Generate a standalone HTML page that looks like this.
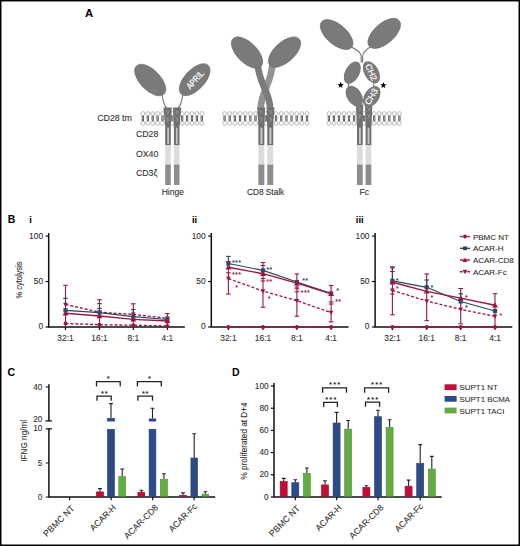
<!DOCTYPE html>
<html><head><meta charset="utf-8"><style>
html,body{margin:0;padding:0;background:#fff;width:520px;height:546px;overflow:hidden}
body{position:relative}
text.t{stroke:#303030;stroke-width:0.1px}
</style></head><body>
<svg width="520" height="546" viewBox="0 0 520 546" style="position:absolute;left:0;top:0">
<rect width="520" height="546" fill="#000"/><rect x="1.5" y="1.45" width="517.0" height="543.05" fill="#fff"/>
<text x="85" y="17.2" font-family='"Liberation Sans", sans-serif' font-weight="bold" font-size="11.2" fill="#000">A</text>
<text x="7.8" y="222.6" font-family='"Liberation Sans", sans-serif' font-weight="bold" font-size="10.5" fill="#000">B</text>
<text x="7.6" y="376" font-family='"Liberation Sans", sans-serif' font-weight="bold" font-size="10.5" fill="#000">C</text>
<text x="232" y="376" font-family='"Liberation Sans", sans-serif' font-weight="bold" font-size="10.5" fill="#000">D</text>
<path d="M142.40 115.50 q-0.6 2.9 0.2 5.8 M143.40 115.50 q0.5 2.9 -0.1 5.8" stroke="#4a4a4a" stroke-width="0.95" fill="none"/>
<circle cx="142.90" cy="113.60" r="2.0" fill="#fff" stroke="#959595" stroke-width="0.65"/>
<circle cx="142.90" cy="123.20" r="2.0" fill="#fff" stroke="#959595" stroke-width="0.65"/>
<path d="M147.31 115.50 q-0.6 2.9 0.2 5.8 M148.31 115.50 q0.5 2.9 -0.1 5.8" stroke="#4a4a4a" stroke-width="0.95" fill="none"/>
<circle cx="147.81" cy="113.60" r="2.0" fill="#fff" stroke="#959595" stroke-width="0.65"/>
<circle cx="147.81" cy="123.20" r="2.0" fill="#fff" stroke="#959595" stroke-width="0.65"/>
<path d="M152.22 115.50 q-0.6 2.9 0.2 5.8 M153.22 115.50 q0.5 2.9 -0.1 5.8" stroke="#4a4a4a" stroke-width="0.95" fill="none"/>
<circle cx="152.72" cy="113.60" r="2.0" fill="#fff" stroke="#959595" stroke-width="0.65"/>
<circle cx="152.72" cy="123.20" r="2.0" fill="#fff" stroke="#959595" stroke-width="0.65"/>
<path d="M157.12 115.50 q-0.6 2.9 0.2 5.8 M158.12 115.50 q0.5 2.9 -0.1 5.8" stroke="#4a4a4a" stroke-width="0.95" fill="none"/>
<circle cx="157.62" cy="113.60" r="2.0" fill="#fff" stroke="#959595" stroke-width="0.65"/>
<circle cx="157.62" cy="123.20" r="2.0" fill="#fff" stroke="#959595" stroke-width="0.65"/>
<path d="M162.03 115.50 q-0.6 2.9 0.2 5.8 M163.03 115.50 q0.5 2.9 -0.1 5.8" stroke="#4a4a4a" stroke-width="0.95" fill="none"/>
<circle cx="162.53" cy="113.60" r="2.0" fill="#fff" stroke="#959595" stroke-width="0.65"/>
<circle cx="162.53" cy="123.20" r="2.0" fill="#fff" stroke="#959595" stroke-width="0.65"/>
<path d="M166.94 115.50 q-0.6 2.9 0.2 5.8 M167.94 115.50 q0.5 2.9 -0.1 5.8" stroke="#4a4a4a" stroke-width="0.95" fill="none"/>
<circle cx="167.44" cy="113.60" r="2.0" fill="#fff" stroke="#959595" stroke-width="0.65"/>
<circle cx="167.44" cy="123.20" r="2.0" fill="#fff" stroke="#959595" stroke-width="0.65"/>
<path d="M171.85 115.50 q-0.6 2.9 0.2 5.8 M172.85 115.50 q0.5 2.9 -0.1 5.8" stroke="#4a4a4a" stroke-width="0.95" fill="none"/>
<circle cx="172.35" cy="113.60" r="2.0" fill="#fff" stroke="#959595" stroke-width="0.65"/>
<circle cx="172.35" cy="123.20" r="2.0" fill="#fff" stroke="#959595" stroke-width="0.65"/>
<path d="M176.76 115.50 q-0.6 2.9 0.2 5.8 M177.76 115.50 q0.5 2.9 -0.1 5.8" stroke="#4a4a4a" stroke-width="0.95" fill="none"/>
<circle cx="177.26" cy="113.60" r="2.0" fill="#fff" stroke="#959595" stroke-width="0.65"/>
<circle cx="177.26" cy="123.20" r="2.0" fill="#fff" stroke="#959595" stroke-width="0.65"/>
<path d="M181.67 115.50 q-0.6 2.9 0.2 5.8 M182.67 115.50 q0.5 2.9 -0.1 5.8" stroke="#4a4a4a" stroke-width="0.95" fill="none"/>
<circle cx="182.17" cy="113.60" r="2.0" fill="#fff" stroke="#959595" stroke-width="0.65"/>
<circle cx="182.17" cy="123.20" r="2.0" fill="#fff" stroke="#959595" stroke-width="0.65"/>
<path d="M186.58 115.50 q-0.6 2.9 0.2 5.8 M187.58 115.50 q0.5 2.9 -0.1 5.8" stroke="#4a4a4a" stroke-width="0.95" fill="none"/>
<circle cx="187.08" cy="113.60" r="2.0" fill="#fff" stroke="#959595" stroke-width="0.65"/>
<circle cx="187.08" cy="123.20" r="2.0" fill="#fff" stroke="#959595" stroke-width="0.65"/>
<path d="M191.48 115.50 q-0.6 2.9 0.2 5.8 M192.48 115.50 q0.5 2.9 -0.1 5.8" stroke="#4a4a4a" stroke-width="0.95" fill="none"/>
<circle cx="191.98" cy="113.60" r="2.0" fill="#fff" stroke="#959595" stroke-width="0.65"/>
<circle cx="191.98" cy="123.20" r="2.0" fill="#fff" stroke="#959595" stroke-width="0.65"/>
<path d="M196.39 115.50 q-0.6 2.9 0.2 5.8 M197.39 115.50 q0.5 2.9 -0.1 5.8" stroke="#4a4a4a" stroke-width="0.95" fill="none"/>
<circle cx="196.89" cy="113.60" r="2.0" fill="#fff" stroke="#959595" stroke-width="0.65"/>
<circle cx="196.89" cy="123.20" r="2.0" fill="#fff" stroke="#959595" stroke-width="0.65"/>
<path d="M201.30 115.50 q-0.6 2.9 0.2 5.8 M202.30 115.50 q0.5 2.9 -0.1 5.8" stroke="#4a4a4a" stroke-width="0.95" fill="none"/>
<circle cx="201.80" cy="113.60" r="2.0" fill="#fff" stroke="#959595" stroke-width="0.65"/>
<circle cx="201.80" cy="123.20" r="2.0" fill="#fff" stroke="#959595" stroke-width="0.65"/>
<ellipse cx="150.2" cy="80.0" rx="19.7" ry="10.1" transform="rotate(45.6 150.2 80.0)" fill="#7a7a7a" stroke="#686868" stroke-width="0.6"/>
<ellipse cx="194.65" cy="79.7" rx="19.7" ry="10.1" transform="rotate(-47 194.65 79.7)" fill="#7a7a7a" stroke="#686868" stroke-width="0.6"/>
<text x="195.0" y="82.9" font-family='"Liberation Sans", sans-serif' font-size="9" fill="#fff" stroke="#fff" stroke-width="0.25" text-anchor="middle" textLength="21.5" lengthAdjust="spacingAndGlyphs" transform="rotate(-48 195.0 79.7)">APRIL</text>
<path d="M162.3 94.8 C162.6 99 163 104 166.6 108 M182.6 94.8 C182.3 99 181.8 104 178.2 108" stroke="#7a7a7a" stroke-width="1.15" fill="none"/>
<path d="M171.75 107.6 L163.45 107.6 L165.15 125.6 L170.85 125.6 Z" fill="#707070"/>
<path d="M165.60 109.6 l3 4 M169.10 110.6 l-2.5 4 M166.10 116.6 l2.5 4 M168.80 117.6 l-2.2 4.5" stroke="#9a9a9a" stroke-width="0.8" fill="none"/>
<path d="M172.95 107.6 L181.25 107.6 L179.55 125.6 L173.85 125.6 Z" fill="#707070"/>
<path d="M175.10 109.6 l3 4 M178.60 110.6 l-2.5 4 M175.60 116.6 l2.5 4 M178.30 117.6 l-2.2 4.5" stroke="#9a9a9a" stroke-width="0.8" fill="none"/>
<rect x="165.20" y="125" width="5.6" height="20.30" fill="#6e6e6e"/>
<rect x="167.20" y="127.6" width="1.80" height="16.4" fill="#c4c4c4"/>
<rect x="165.20" y="145.3" width="5.6" height="19.2" fill="#dcdcdc"/>
<rect x="165.20" y="164.5" width="5.6" height="20.5" fill="#8d8d8d"/>
<rect x="173.90" y="125" width="5.6" height="20.30" fill="#6e6e6e"/>
<rect x="175.90" y="127.6" width="1.80" height="16.4" fill="#c4c4c4"/>
<rect x="173.90" y="145.3" width="5.6" height="19.2" fill="#dcdcdc"/>
<rect x="173.90" y="164.5" width="5.6" height="20.5" fill="#8d8d8d"/>
<path d="M224.10 115.50 q-0.6 2.9 0.2 5.8 M225.10 115.50 q0.5 2.9 -0.1 5.8" stroke="#4a4a4a" stroke-width="0.95" fill="none"/>
<circle cx="224.60" cy="113.60" r="2.0" fill="#fff" stroke="#959595" stroke-width="0.65"/>
<circle cx="224.60" cy="123.20" r="2.0" fill="#fff" stroke="#959595" stroke-width="0.65"/>
<path d="M229.25 115.50 q-0.6 2.9 0.2 5.8 M230.25 115.50 q0.5 2.9 -0.1 5.8" stroke="#4a4a4a" stroke-width="0.95" fill="none"/>
<circle cx="229.75" cy="113.60" r="2.0" fill="#fff" stroke="#959595" stroke-width="0.65"/>
<circle cx="229.75" cy="123.20" r="2.0" fill="#fff" stroke="#959595" stroke-width="0.65"/>
<path d="M234.40 115.50 q-0.6 2.9 0.2 5.8 M235.40 115.50 q0.5 2.9 -0.1 5.8" stroke="#4a4a4a" stroke-width="0.95" fill="none"/>
<circle cx="234.90" cy="113.60" r="2.0" fill="#fff" stroke="#959595" stroke-width="0.65"/>
<circle cx="234.90" cy="123.20" r="2.0" fill="#fff" stroke="#959595" stroke-width="0.65"/>
<path d="M239.55 115.50 q-0.6 2.9 0.2 5.8 M240.55 115.50 q0.5 2.9 -0.1 5.8" stroke="#4a4a4a" stroke-width="0.95" fill="none"/>
<circle cx="240.05" cy="113.60" r="2.0" fill="#fff" stroke="#959595" stroke-width="0.65"/>
<circle cx="240.05" cy="123.20" r="2.0" fill="#fff" stroke="#959595" stroke-width="0.65"/>
<path d="M244.70 115.50 q-0.6 2.9 0.2 5.8 M245.70 115.50 q0.5 2.9 -0.1 5.8" stroke="#4a4a4a" stroke-width="0.95" fill="none"/>
<circle cx="245.20" cy="113.60" r="2.0" fill="#fff" stroke="#959595" stroke-width="0.65"/>
<circle cx="245.20" cy="123.20" r="2.0" fill="#fff" stroke="#959595" stroke-width="0.65"/>
<path d="M249.85 115.50 q-0.6 2.9 0.2 5.8 M250.85 115.50 q0.5 2.9 -0.1 5.8" stroke="#4a4a4a" stroke-width="0.95" fill="none"/>
<circle cx="250.35" cy="113.60" r="2.0" fill="#fff" stroke="#959595" stroke-width="0.65"/>
<circle cx="250.35" cy="123.20" r="2.0" fill="#fff" stroke="#959595" stroke-width="0.65"/>
<path d="M255.00 115.50 q-0.6 2.9 0.2 5.8 M256.00 115.50 q0.5 2.9 -0.1 5.8" stroke="#4a4a4a" stroke-width="0.95" fill="none"/>
<circle cx="255.50" cy="113.60" r="2.0" fill="#fff" stroke="#959595" stroke-width="0.65"/>
<circle cx="255.50" cy="123.20" r="2.0" fill="#fff" stroke="#959595" stroke-width="0.65"/>
<path d="M260.15 115.50 q-0.6 2.9 0.2 5.8 M261.15 115.50 q0.5 2.9 -0.1 5.8" stroke="#4a4a4a" stroke-width="0.95" fill="none"/>
<circle cx="260.65" cy="113.60" r="2.0" fill="#fff" stroke="#959595" stroke-width="0.65"/>
<circle cx="260.65" cy="123.20" r="2.0" fill="#fff" stroke="#959595" stroke-width="0.65"/>
<path d="M265.30 115.50 q-0.6 2.9 0.2 5.8 M266.30 115.50 q0.5 2.9 -0.1 5.8" stroke="#4a4a4a" stroke-width="0.95" fill="none"/>
<circle cx="265.80" cy="113.60" r="2.0" fill="#fff" stroke="#959595" stroke-width="0.65"/>
<circle cx="265.80" cy="123.20" r="2.0" fill="#fff" stroke="#959595" stroke-width="0.65"/>
<path d="M270.45 115.50 q-0.6 2.9 0.2 5.8 M271.45 115.50 q0.5 2.9 -0.1 5.8" stroke="#4a4a4a" stroke-width="0.95" fill="none"/>
<circle cx="270.95" cy="113.60" r="2.0" fill="#fff" stroke="#959595" stroke-width="0.65"/>
<circle cx="270.95" cy="123.20" r="2.0" fill="#fff" stroke="#959595" stroke-width="0.65"/>
<path d="M275.60 115.50 q-0.6 2.9 0.2 5.8 M276.60 115.50 q0.5 2.9 -0.1 5.8" stroke="#4a4a4a" stroke-width="0.95" fill="none"/>
<circle cx="276.10" cy="113.60" r="2.0" fill="#fff" stroke="#959595" stroke-width="0.65"/>
<circle cx="276.10" cy="123.20" r="2.0" fill="#fff" stroke="#959595" stroke-width="0.65"/>
<path d="M280.75 115.50 q-0.6 2.9 0.2 5.8 M281.75 115.50 q0.5 2.9 -0.1 5.8" stroke="#4a4a4a" stroke-width="0.95" fill="none"/>
<circle cx="281.25" cy="113.60" r="2.0" fill="#fff" stroke="#959595" stroke-width="0.65"/>
<circle cx="281.25" cy="123.20" r="2.0" fill="#fff" stroke="#959595" stroke-width="0.65"/>
<path d="M285.90 115.50 q-0.6 2.9 0.2 5.8 M286.90 115.50 q0.5 2.9 -0.1 5.8" stroke="#4a4a4a" stroke-width="0.95" fill="none"/>
<circle cx="286.40" cy="113.60" r="2.0" fill="#fff" stroke="#959595" stroke-width="0.65"/>
<circle cx="286.40" cy="123.20" r="2.0" fill="#fff" stroke="#959595" stroke-width="0.65"/>
<path d="M291.05 115.50 q-0.6 2.9 0.2 5.8 M292.05 115.50 q0.5 2.9 -0.1 5.8" stroke="#4a4a4a" stroke-width="0.95" fill="none"/>
<circle cx="291.55" cy="113.60" r="2.0" fill="#fff" stroke="#959595" stroke-width="0.65"/>
<circle cx="291.55" cy="123.20" r="2.0" fill="#fff" stroke="#959595" stroke-width="0.65"/>
<path d="M296.20 115.50 q-0.6 2.9 0.2 5.8 M297.20 115.50 q0.5 2.9 -0.1 5.8" stroke="#4a4a4a" stroke-width="0.95" fill="none"/>
<circle cx="296.70" cy="113.60" r="2.0" fill="#fff" stroke="#959595" stroke-width="0.65"/>
<circle cx="296.70" cy="123.20" r="2.0" fill="#fff" stroke="#959595" stroke-width="0.65"/>
<path d="M301.35 115.50 q-0.6 2.9 0.2 5.8 M302.35 115.50 q0.5 2.9 -0.1 5.8" stroke="#4a4a4a" stroke-width="0.95" fill="none"/>
<circle cx="301.85" cy="113.60" r="2.0" fill="#fff" stroke="#959595" stroke-width="0.65"/>
<circle cx="301.85" cy="123.20" r="2.0" fill="#fff" stroke="#959595" stroke-width="0.65"/>
<path d="M306.50 115.50 q-0.6 2.9 0.2 5.8 M307.50 115.50 q0.5 2.9 -0.1 5.8" stroke="#4a4a4a" stroke-width="0.95" fill="none"/>
<circle cx="307.00" cy="113.60" r="2.0" fill="#fff" stroke="#959595" stroke-width="0.65"/>
<circle cx="307.00" cy="123.20" r="2.0" fill="#fff" stroke="#959595" stroke-width="0.65"/>
<path d="M272.5 62 C272.5 82 260.7 92 260.7 108.5" stroke="#939393" stroke-width="6.7" fill="none"/>
<path d="M257.6 62 C257.6 82 270.1 92 270.1 108.5" stroke="#7b7b7b" stroke-width="6.7" fill="none"/>
<ellipse cx="247.05" cy="52.55" rx="19.7" ry="10.1" transform="rotate(45 247.05 52.55)" fill="#7a7a7a" stroke="#686868" stroke-width="0.6"/>
<ellipse cx="284.55" cy="52.1" rx="19.7" ry="10.1" transform="rotate(-42 284.55 52.1)" fill="#7a7a7a" stroke="#686868" stroke-width="0.6"/>
<path d="M265.10 107.6 L257.10 107.6 L258.40 125.6 L264.40 125.6 Z" fill="#707070"/>
<path d="M259.10 109.6 l3 4 M262.60 110.6 l-2.5 4 M259.60 116.6 l2.5 4 M262.30 117.6 l-2.2 4.5" stroke="#9a9a9a" stroke-width="0.8" fill="none"/>
<path d="M266.50 107.6 L274.50 107.6 L273.20 125.6 L267.20 125.6 Z" fill="#707070"/>
<path d="M268.50 109.6 l3 4 M272.00 110.6 l-2.5 4 M269.00 116.6 l2.5 4 M271.70 117.6 l-2.2 4.5" stroke="#9a9a9a" stroke-width="0.8" fill="none"/>
<rect x="258.35" y="125" width="6.0" height="20.30" fill="#6e6e6e"/>
<rect x="260.35" y="127.6" width="2.20" height="16.4" fill="#c4c4c4"/>
<rect x="258.35" y="145.3" width="6.0" height="19.2" fill="#dcdcdc"/>
<rect x="258.35" y="164.5" width="6.0" height="20.5" fill="#8d8d8d"/>
<rect x="267.25" y="125" width="6.0" height="20.30" fill="#6e6e6e"/>
<rect x="269.25" y="127.6" width="2.20" height="16.4" fill="#c4c4c4"/>
<rect x="267.25" y="145.3" width="6.0" height="19.2" fill="#dcdcdc"/>
<rect x="267.25" y="164.5" width="6.0" height="20.5" fill="#8d8d8d"/>
<path d="M328.40 115.50 q-0.6 2.9 0.2 5.8 M329.40 115.50 q0.5 2.9 -0.1 5.8" stroke="#4a4a4a" stroke-width="0.95" fill="none"/>
<circle cx="328.90" cy="113.60" r="2.0" fill="#fff" stroke="#959595" stroke-width="0.65"/>
<circle cx="328.90" cy="123.20" r="2.0" fill="#fff" stroke="#959595" stroke-width="0.65"/>
<path d="M333.44 115.50 q-0.6 2.9 0.2 5.8 M334.44 115.50 q0.5 2.9 -0.1 5.8" stroke="#4a4a4a" stroke-width="0.95" fill="none"/>
<circle cx="333.94" cy="113.60" r="2.0" fill="#fff" stroke="#959595" stroke-width="0.65"/>
<circle cx="333.94" cy="123.20" r="2.0" fill="#fff" stroke="#959595" stroke-width="0.65"/>
<path d="M338.47 115.50 q-0.6 2.9 0.2 5.8 M339.47 115.50 q0.5 2.9 -0.1 5.8" stroke="#4a4a4a" stroke-width="0.95" fill="none"/>
<circle cx="338.97" cy="113.60" r="2.0" fill="#fff" stroke="#959595" stroke-width="0.65"/>
<circle cx="338.97" cy="123.20" r="2.0" fill="#fff" stroke="#959595" stroke-width="0.65"/>
<path d="M343.51 115.50 q-0.6 2.9 0.2 5.8 M344.51 115.50 q0.5 2.9 -0.1 5.8" stroke="#4a4a4a" stroke-width="0.95" fill="none"/>
<circle cx="344.01" cy="113.60" r="2.0" fill="#fff" stroke="#959595" stroke-width="0.65"/>
<circle cx="344.01" cy="123.20" r="2.0" fill="#fff" stroke="#959595" stroke-width="0.65"/>
<path d="M348.54 115.50 q-0.6 2.9 0.2 5.8 M349.54 115.50 q0.5 2.9 -0.1 5.8" stroke="#4a4a4a" stroke-width="0.95" fill="none"/>
<circle cx="349.04" cy="113.60" r="2.0" fill="#fff" stroke="#959595" stroke-width="0.65"/>
<circle cx="349.04" cy="123.20" r="2.0" fill="#fff" stroke="#959595" stroke-width="0.65"/>
<path d="M353.58 115.50 q-0.6 2.9 0.2 5.8 M354.58 115.50 q0.5 2.9 -0.1 5.8" stroke="#4a4a4a" stroke-width="0.95" fill="none"/>
<circle cx="354.08" cy="113.60" r="2.0" fill="#fff" stroke="#959595" stroke-width="0.65"/>
<circle cx="354.08" cy="123.20" r="2.0" fill="#fff" stroke="#959595" stroke-width="0.65"/>
<path d="M358.61 115.50 q-0.6 2.9 0.2 5.8 M359.61 115.50 q0.5 2.9 -0.1 5.8" stroke="#4a4a4a" stroke-width="0.95" fill="none"/>
<circle cx="359.11" cy="113.60" r="2.0" fill="#fff" stroke="#959595" stroke-width="0.65"/>
<circle cx="359.11" cy="123.20" r="2.0" fill="#fff" stroke="#959595" stroke-width="0.65"/>
<path d="M363.65 115.50 q-0.6 2.9 0.2 5.8 M364.65 115.50 q0.5 2.9 -0.1 5.8" stroke="#4a4a4a" stroke-width="0.95" fill="none"/>
<circle cx="364.15" cy="113.60" r="2.0" fill="#fff" stroke="#959595" stroke-width="0.65"/>
<circle cx="364.15" cy="123.20" r="2.0" fill="#fff" stroke="#959595" stroke-width="0.65"/>
<path d="M368.69 115.50 q-0.6 2.9 0.2 5.8 M369.69 115.50 q0.5 2.9 -0.1 5.8" stroke="#4a4a4a" stroke-width="0.95" fill="none"/>
<circle cx="369.19" cy="113.60" r="2.0" fill="#fff" stroke="#959595" stroke-width="0.65"/>
<circle cx="369.19" cy="123.20" r="2.0" fill="#fff" stroke="#959595" stroke-width="0.65"/>
<path d="M373.72 115.50 q-0.6 2.9 0.2 5.8 M374.72 115.50 q0.5 2.9 -0.1 5.8" stroke="#4a4a4a" stroke-width="0.95" fill="none"/>
<circle cx="374.22" cy="113.60" r="2.0" fill="#fff" stroke="#959595" stroke-width="0.65"/>
<circle cx="374.22" cy="123.20" r="2.0" fill="#fff" stroke="#959595" stroke-width="0.65"/>
<path d="M378.76 115.50 q-0.6 2.9 0.2 5.8 M379.76 115.50 q0.5 2.9 -0.1 5.8" stroke="#4a4a4a" stroke-width="0.95" fill="none"/>
<circle cx="379.26" cy="113.60" r="2.0" fill="#fff" stroke="#959595" stroke-width="0.65"/>
<circle cx="379.26" cy="123.20" r="2.0" fill="#fff" stroke="#959595" stroke-width="0.65"/>
<path d="M383.79 115.50 q-0.6 2.9 0.2 5.8 M384.79 115.50 q0.5 2.9 -0.1 5.8" stroke="#4a4a4a" stroke-width="0.95" fill="none"/>
<circle cx="384.29" cy="113.60" r="2.0" fill="#fff" stroke="#959595" stroke-width="0.65"/>
<circle cx="384.29" cy="123.20" r="2.0" fill="#fff" stroke="#959595" stroke-width="0.65"/>
<path d="M388.83 115.50 q-0.6 2.9 0.2 5.8 M389.83 115.50 q0.5 2.9 -0.1 5.8" stroke="#4a4a4a" stroke-width="0.95" fill="none"/>
<circle cx="389.33" cy="113.60" r="2.0" fill="#fff" stroke="#959595" stroke-width="0.65"/>
<circle cx="389.33" cy="123.20" r="2.0" fill="#fff" stroke="#959595" stroke-width="0.65"/>
<path d="M393.86 115.50 q-0.6 2.9 0.2 5.8 M394.86 115.50 q0.5 2.9 -0.1 5.8" stroke="#4a4a4a" stroke-width="0.95" fill="none"/>
<circle cx="394.36" cy="113.60" r="2.0" fill="#fff" stroke="#959595" stroke-width="0.65"/>
<circle cx="394.36" cy="123.20" r="2.0" fill="#fff" stroke="#959595" stroke-width="0.65"/>
<path d="M398.90 115.50 q-0.6 2.9 0.2 5.8 M399.90 115.50 q0.5 2.9 -0.1 5.8" stroke="#4a4a4a" stroke-width="0.95" fill="none"/>
<circle cx="399.40" cy="113.60" r="2.0" fill="#fff" stroke="#959595" stroke-width="0.65"/>
<circle cx="399.40" cy="123.20" r="2.0" fill="#fff" stroke="#959595" stroke-width="0.65"/>
<ellipse cx="336.65" cy="34.6" rx="19.7" ry="10.1" transform="rotate(40.7 336.65 34.6)" fill="#7a7a7a" stroke="#686868" stroke-width="0.6"/>
<ellipse cx="384.2" cy="33.4" rx="19.7" ry="10.1" transform="rotate(-41 384.2 33.4)" fill="#7a7a7a" stroke="#686868" stroke-width="0.6"/>
<path d="M350.5 46.6 C356 49 360.6 51.5 361.2 56 L361.2 62.5 M371.6 46.2 C366.5 49 363 51.5 362.6 56 L362.6 62.5" stroke="#7a7a7a" stroke-width="1.15" fill="none"/>
<ellipse cx="352.3" cy="72.6" rx="12" ry="7.2" transform="rotate(-62 352.3 72.6)" fill="#7a7a7a"/>
<ellipse cx="371.4" cy="72.2" rx="12" ry="7.2" transform="rotate(60.5 371.4 72.2)" fill="#7a7a7a"/>
<text x="371.4" y="75.3" font-family='"Liberation Sans", sans-serif' font-size="8.6" fill="#fff" stroke="#fff" stroke-width="0.2" text-anchor="middle" transform="rotate(66 371.4 72.2)">CH2</text>
<path d="M348.6 82 L348.6 88 M373.8 81.5 L373.8 88" stroke="#7a7a7a" stroke-width="1.2" fill="none"/>
<path d="M363.25 104.5 L355.95 104.5 L356.80 125.6 L362.70 125.6 Z" fill="#707070"/>
<path d="M357.60 106.5 l3 4 M361.10 107.5 l-2.5 4 M358.10 113.5 l2.5 4 M360.80 114.5 l-2.2 4.5" stroke="#9a9a9a" stroke-width="0.8" fill="none"/>
<path d="M365.05 104.5 L372.35 104.5 L371.50 125.6 L365.60 125.6 Z" fill="#707070"/>
<path d="M366.70 106.5 l3 4 M370.20 107.5 l-2.5 4 M367.20 113.5 l2.5 4 M369.90 114.5 l-2.2 4.5" stroke="#9a9a9a" stroke-width="0.8" fill="none"/>
<ellipse cx="354.3" cy="96.2" rx="11.5" ry="7.4" transform="rotate(58 354.3 96.2)" fill="#7a7a7a"/>
<ellipse cx="371.7" cy="96.6" rx="11.5" ry="7.4" transform="rotate(-57 371.7 96.6)" fill="#7a7a7a"/>
<text x="371.2" y="99.7" font-family='"Liberation Sans", sans-serif' font-size="8.6" fill="#fff" stroke="#fff" stroke-width="0.2" text-anchor="middle" transform="rotate(-60 371.2 96.6)">CH3</text>
<rect x="356.95" y="125" width="5.75" height="20.30" fill="#6e6e6e"/>
<rect x="358.95" y="127.6" width="1.95" height="16.4" fill="#c4c4c4"/>
<rect x="356.95" y="145.3" width="5.75" height="19.2" fill="#dcdcdc"/>
<rect x="356.95" y="164.5" width="5.75" height="20.5" fill="#8d8d8d"/>
<rect x="365.60" y="125" width="5.75" height="20.30" fill="#6e6e6e"/>
<rect x="367.60" y="127.6" width="1.95" height="16.4" fill="#c4c4c4"/>
<rect x="365.60" y="145.3" width="5.75" height="19.2" fill="#dcdcdc"/>
<rect x="365.60" y="164.5" width="5.75" height="20.5" fill="#8d8d8d"/>
<polygon points="340.60,81.80 341.42,84.07 343.83,84.15 341.93,85.63 342.60,87.95 340.60,86.60 338.60,87.95 339.27,85.63 337.37,84.15 339.78,84.07" fill="#000"/>
<polygon points="383.40,82.00 384.22,84.27 386.63,84.35 384.73,85.83 385.40,88.15 383.40,86.80 381.40,88.15 382.07,85.83 380.17,84.35 382.58,84.27" fill="#000"/>
<text class="t" x="97.2" y="120.8" font-family='"Liberation Sans", sans-serif' font-size="8.8" fill="#303030" text-anchor="start" >CD28 tm</text>
<text class="t" x="135.9" y="137.2" font-family='"Liberation Sans", sans-serif' font-size="8.8" fill="#303030" text-anchor="start" >CD28</text>
<text class="t" x="135.9" y="156.7" font-family='"Liberation Sans", sans-serif' font-size="8.8" fill="#303030" text-anchor="start" >OX40</text>
<text class="t" x="135.9" y="175.5" font-family='"Liberation Sans", sans-serif' font-size="8.8" fill="#303030" text-anchor="start" >CD3ζ</text>
<text class="t" x="172.9" y="194.8" font-family='"Liberation Sans", sans-serif' font-size="8.6" fill="#303030" text-anchor="middle" >Hinge</text>
<text class="t" x="265.6" y="194.8" font-family='"Liberation Sans", sans-serif' font-size="8.3" fill="#303030" text-anchor="middle" >CD8 Stalk</text>
<text class="t" x="364.3" y="194.8" font-family='"Liberation Sans", sans-serif' font-size="8.6" fill="#303030" text-anchor="middle" >Fc</text>
<text x="29.2" y="222.8" font-family='"Liberation Sans", sans-serif' font-weight="bold" font-size="9.5" fill="#000">i</text>
<path d="M48.7 232.9 L48.7 327.70 M48.0 327.00 L184.8 327.00" stroke="#111" stroke-width="1.5" fill="none"/>
<path d="M45.5 327.00 L48.7 327.00" stroke="#111" stroke-width="1.2"/>
<text class="t" x="43.1" y="329.4" font-family='"Liberation Sans", sans-serif' font-size="8.4" fill="#303030" text-anchor="end" >0</text>
<path d="M45.5 281.55 L48.7 281.55" stroke="#111" stroke-width="1.2"/>
<text class="t" x="43.1" y="283.95" font-family='"Liberation Sans", sans-serif' font-size="8.4" fill="#303030" text-anchor="end" >50</text>
<path d="M45.5 236.10 L48.7 236.10" stroke="#111" stroke-width="1.2"/>
<text class="t" x="43.1" y="238.5" font-family='"Liberation Sans", sans-serif' font-size="8.4" fill="#303030" text-anchor="end" >100</text>
<path d="M65.5 327.00 L65.5 330.00" stroke="#111" stroke-width="1.2"/>
<text class="t" x="65.5" y="340.7" font-family='"Liberation Sans", sans-serif' font-size="8.4" fill="#303030" text-anchor="middle" >32:1</text>
<path d="M99.5 327.00 L99.5 330.00" stroke="#111" stroke-width="1.2"/>
<text class="t" x="99.5" y="340.7" font-family='"Liberation Sans", sans-serif' font-size="8.4" fill="#303030" text-anchor="middle" >16:1</text>
<path d="M133.3 327.00 L133.3 330.00" stroke="#111" stroke-width="1.2"/>
<text class="t" x="133.3" y="340.7" font-family='"Liberation Sans", sans-serif' font-size="8.4" fill="#303030" text-anchor="middle" >8:1</text>
<path d="M167.4 327.00 L167.4 330.00" stroke="#111" stroke-width="1.2"/>
<text class="t" x="167.4" y="340.7" font-family='"Liberation Sans", sans-serif' font-size="8.4" fill="#303030" text-anchor="middle" >4:1</text>
<path d="M65.5 326.50 L65.5 285.30" stroke="#9c1640" stroke-width="1.1" fill="none"/>
<path d="M99.5 326.50 L99.5 299.70" stroke="#9c1640" stroke-width="1.1" fill="none"/>
<path d="M133.3 326.50 L133.3 303.80" stroke="#9c1640" stroke-width="1.1" fill="none"/>
<path d="M167.4 326.50 L167.4 313.60" stroke="#9c1640" stroke-width="1.1" fill="none"/>
<path d="M65.5 310.30 L65.5 298.30" stroke="#2b4658" stroke-width="1.1" fill="none"/>
<path d="M99.5 312.60 L99.5 303.60" stroke="#2b4658" stroke-width="1.1" fill="none"/>
<path d="M133.3 316.70 L133.3 309.50" stroke="#2b4658" stroke-width="1.1" fill="none"/>
<path d="M63.20 285.30 L67.80 285.30" stroke="#9c1640" stroke-width="1.1" fill="none"/>
<path d="M63.20 298.30 L67.80 298.30" stroke="#2b4658" stroke-width="1.1" fill="none"/>
<path d="M97.20 299.70 L101.80 299.70" stroke="#9c1640" stroke-width="1.1" fill="none"/>
<path d="M97.20 303.60 L101.80 303.60" stroke="#2b4658" stroke-width="1.1" fill="none"/>
<path d="M97.20 308.40 L101.80 308.40" stroke="#9c1640" stroke-width="1.1" fill="none"/>
<path d="M131.00 303.80 L135.60 303.80" stroke="#9c1640" stroke-width="1.1" fill="none"/>
<path d="M131.00 309.50 L135.60 309.50" stroke="#2b4658" stroke-width="1.1" fill="none"/>
<path d="M165.10 313.60 L169.70 313.60" stroke="#9c1640" stroke-width="1.1" fill="none"/>
<polyline points="65.50,323.50 99.50,324.70 133.30,325.20 167.40,326.00" stroke="#9c1640" stroke-width="1.35" fill="none" stroke-dasharray="3.0,1.9"/>
<circle cx="65.50" cy="323.50" r="1.98" fill="#9c1640"/>
<circle cx="99.50" cy="324.70" r="1.98" fill="#9c1640"/>
<circle cx="133.30" cy="325.20" r="1.98" fill="#9c1640"/>
<circle cx="167.40" cy="326.00" r="1.98" fill="#9c1640"/>
<polyline points="65.50,304.50 99.50,312.20 133.30,314.40 167.40,318.30" stroke="#9c1640" stroke-width="1.3" fill="none" stroke-dasharray="3.0,1.9"/>
<path d="M65.50 306.88 L67.88 302.71 L63.12 302.71 Z" fill="#9c1640"/>
<path d="M99.50 314.58 L101.88 310.41 L97.12 310.41 Z" fill="#9c1640"/>
<path d="M133.30 316.78 L135.68 312.61 L130.92 312.61 Z" fill="#9c1640"/>
<path d="M167.40 320.68 L169.78 316.51 L165.02 316.51 Z" fill="#9c1640"/>
<polyline points="65.50,310.30 99.50,312.60 133.30,316.70 167.40,319.50" stroke="#2b4658" stroke-width="1.2" fill="none"/>
<rect x="63.40" y="308.20" width="4.20" height="4.20" fill="#2d4a72"/>
<rect x="97.40" y="310.50" width="4.20" height="4.20" fill="#2d4a72"/>
<rect x="131.20" y="314.60" width="4.20" height="4.20" fill="#2d4a72"/>
<rect x="165.30" y="317.40" width="4.20" height="4.20" fill="#2d4a72"/>
<polyline points="65.50,313.20 99.50,316.00 133.30,319.40 167.40,321.00" stroke="#9c1640" stroke-width="1.4" fill="none"/>
<path d="M65.50 310.26 L68.44 315.40 L62.56 315.40 Z" fill="#9c1640"/>
<path d="M99.50 313.06 L102.44 318.20 L96.56 318.20 Z" fill="#9c1640"/>
<path d="M133.30 316.46 L136.24 321.60 L130.36 321.60 Z" fill="#9c1640"/>
<path d="M167.40 318.06 L170.34 323.20 L164.46 323.20 Z" fill="#9c1640"/>
<text class="t" x="0" y="0" font-family='"Liberation Sans", sans-serif' font-size="8.9" fill="#303030" text-anchor="middle" textLength="37" lengthAdjust="spacingAndGlyphs" transform="translate(22.4 280) rotate(-90)">% cytolysis</text>
<text x="191.9" y="222.8" font-family='"Liberation Sans", sans-serif' font-weight="bold" font-size="9.5" fill="#000">ii</text>
<path d="M211.3 232.9 L211.3 327.70 M210.60000000000002 327.00 L348.5 327.00" stroke="#111" stroke-width="1.5" fill="none"/>
<path d="M208.10000000000002 327.00 L211.3 327.00" stroke="#111" stroke-width="1.2"/>
<text class="t" x="205.70000000000002" y="329.4" font-family='"Liberation Sans", sans-serif' font-size="8.4" fill="#303030" text-anchor="end" >0</text>
<path d="M208.10000000000002 281.55 L211.3 281.55" stroke="#111" stroke-width="1.2"/>
<text class="t" x="205.70000000000002" y="283.95" font-family='"Liberation Sans", sans-serif' font-size="8.4" fill="#303030" text-anchor="end" >50</text>
<path d="M208.10000000000002 236.10 L211.3 236.10" stroke="#111" stroke-width="1.2"/>
<text class="t" x="205.70000000000002" y="238.5" font-family='"Liberation Sans", sans-serif' font-size="8.4" fill="#303030" text-anchor="end" >100</text>
<path d="M228.4 327.00 L228.4 330.00" stroke="#111" stroke-width="1.2"/>
<text class="t" x="228.4" y="340.7" font-family='"Liberation Sans", sans-serif' font-size="8.4" fill="#303030" text-anchor="middle" >32:1</text>
<path d="M263.0 327.00 L263.0 330.00" stroke="#111" stroke-width="1.2"/>
<text class="t" x="263.0" y="340.7" font-family='"Liberation Sans", sans-serif' font-size="8.4" fill="#303030" text-anchor="middle" >16:1</text>
<path d="M296.9 327.00 L296.9 330.00" stroke="#111" stroke-width="1.2"/>
<text class="t" x="296.9" y="340.7" font-family='"Liberation Sans", sans-serif' font-size="8.4" fill="#303030" text-anchor="middle" >8:1</text>
<path d="M331.1 327.00 L331.1 330.00" stroke="#111" stroke-width="1.2"/>
<text class="t" x="331.1" y="340.7" font-family='"Liberation Sans", sans-serif' font-size="8.4" fill="#303030" text-anchor="middle" >4:1</text>
<path d="M228.4 263.50 L228.4 256.40" stroke="#2b4658" stroke-width="1.1" fill="none"/>
<path d="M228.4 294.00 L228.4 261.70" stroke="#9c1640" stroke-width="1.1" fill="none"/>
<path d="M263.0 307.20 L263.0 262.50" stroke="#9c1640" stroke-width="1.1" fill="none"/>
<path d="M296.9 316.20 L296.9 273.90" stroke="#9c1640" stroke-width="1.1" fill="none"/>
<path d="M331.1 321.90 L331.1 285.50" stroke="#9c1640" stroke-width="1.1" fill="none"/>
<path d="M226.10 256.40 L230.70 256.40" stroke="#2b4658" stroke-width="1.1" fill="none"/>
<path d="M226.10 261.70 L230.70 261.70" stroke="#9c1640" stroke-width="1.1" fill="none"/>
<path d="M226.10 272.80 L230.70 272.80" stroke="#9c1640" stroke-width="1.1" fill="none"/>
<path d="M226.10 294.00 L230.70 294.00" stroke="#9c1640" stroke-width="1.1" fill="none"/>
<path d="M260.70 262.50 L265.30 262.50" stroke="#9c1640" stroke-width="1.1" fill="none"/>
<path d="M260.70 265.60 L265.30 265.60" stroke="#9c1640" stroke-width="1.1" fill="none"/>
<path d="M260.70 278.60 L265.30 278.60" stroke="#9c1640" stroke-width="1.1" fill="none"/>
<path d="M260.70 281.00 L265.30 281.00" stroke="#9c1640" stroke-width="1.1" fill="none"/>
<path d="M260.70 307.20 L265.30 307.20" stroke="#9c1640" stroke-width="1.1" fill="none"/>
<path d="M294.60 273.90 L299.20 273.90" stroke="#9c1640" stroke-width="1.1" fill="none"/>
<path d="M294.60 287.00 L299.20 287.00" stroke="#9c1640" stroke-width="1.1" fill="none"/>
<path d="M294.60 288.80 L299.20 288.80" stroke="#9c1640" stroke-width="1.1" fill="none"/>
<path d="M294.60 291.80 L299.20 291.80" stroke="#9c1640" stroke-width="1.1" fill="none"/>
<path d="M294.60 316.20 L299.20 316.20" stroke="#9c1640" stroke-width="1.1" fill="none"/>
<path d="M328.80 285.50 L333.40 285.50" stroke="#9c1640" stroke-width="1.1" fill="none"/>
<path d="M328.80 301.90 L333.40 301.90" stroke="#9c1640" stroke-width="1.1" fill="none"/>
<path d="M328.80 304.00 L333.40 304.00" stroke="#9c1640" stroke-width="1.1" fill="none"/>
<path d="M328.80 321.90 L333.40 321.90" stroke="#9c1640" stroke-width="1.1" fill="none"/>
<polyline points="228.40,327.00 263.00,327.00 296.90,327.00 331.10,327.00" stroke="#9c1640" stroke-width="1.35" fill="none" stroke-dasharray="3.0,1.9"/>
<circle cx="228.40" cy="327.00" r="1.98" fill="#9c1640"/>
<circle cx="263.00" cy="327.00" r="1.98" fill="#9c1640"/>
<circle cx="296.90" cy="327.00" r="1.98" fill="#9c1640"/>
<circle cx="331.10" cy="327.00" r="1.98" fill="#9c1640"/>
<polyline points="228.40,278.60 263.00,291.00 296.90,300.70 331.10,312.60" stroke="#9c1640" stroke-width="1.3" fill="none" stroke-dasharray="3.0,1.9"/>
<path d="M228.40 280.98 L230.78 276.81 L226.02 276.81 Z" fill="#9c1640"/>
<path d="M263.00 293.38 L265.38 289.21 L260.62 289.21 Z" fill="#9c1640"/>
<path d="M296.90 303.08 L299.28 298.91 L294.52 298.91 Z" fill="#9c1640"/>
<path d="M331.10 314.98 L333.48 310.81 L328.72 310.81 Z" fill="#9c1640"/>
<polyline points="228.40,263.50 263.00,270.40 296.90,282.00 331.10,293.40" stroke="#2b4658" stroke-width="1.2" fill="none"/>
<rect x="226.30" y="261.40" width="4.20" height="4.20" fill="#2d4a72"/>
<rect x="260.90" y="268.30" width="4.20" height="4.20" fill="#2d4a72"/>
<rect x="294.80" y="279.90" width="4.20" height="4.20" fill="#2d4a72"/>
<rect x="329.00" y="291.30" width="4.20" height="4.20" fill="#2d4a72"/>
<polyline points="228.40,267.30 263.00,273.70 296.90,283.20 331.10,293.80" stroke="#9c1640" stroke-width="1.4" fill="none"/>
<path d="M228.40 264.36 L231.34 269.50 L225.46 269.50 Z" fill="#9c1640"/>
<path d="M263.00 270.76 L265.94 275.90 L260.06 275.90 Z" fill="#9c1640"/>
<path d="M296.90 280.26 L299.84 285.40 L293.96 285.40 Z" fill="#9c1640"/>
<path d="M331.10 290.86 L334.04 296.00 L328.16 296.00 Z" fill="#9c1640"/>
<text x="233.40" y="264.60" font-family='"Liberation Sans", sans-serif' font-size="7.2" font-weight="bold" fill="#2b4658" text-anchor="middle">*</text>
<text x="236.50" y="264.60" font-family='"Liberation Sans", sans-serif' font-size="7.2" font-weight="bold" fill="#2b4658" text-anchor="middle">*</text>
<text x="239.60" y="264.60" font-family='"Liberation Sans", sans-serif' font-size="7.2" font-weight="bold" fill="#2b4658" text-anchor="middle">*</text>
<text x="233.40" y="277.40" font-family='"Liberation Sans", sans-serif' font-size="7.2" font-weight="bold" fill="#9c1640" text-anchor="middle">*</text>
<text x="236.50" y="277.40" font-family='"Liberation Sans", sans-serif' font-size="7.2" font-weight="bold" fill="#9c1640" text-anchor="middle">*</text>
<text x="239.60" y="277.40" font-family='"Liberation Sans", sans-serif' font-size="7.2" font-weight="bold" fill="#9c1640" text-anchor="middle">*</text>
<text x="236.70" y="289.60" font-family='"Liberation Sans", sans-serif' font-size="7.2" font-weight="bold" fill="#9c1640" text-anchor="middle">*</text>
<text x="267.65" y="272.10" font-family='"Liberation Sans", sans-serif' font-size="7.2" font-weight="bold" fill="#2b4658" text-anchor="middle">*</text>
<text x="270.75" y="272.10" font-family='"Liberation Sans", sans-serif' font-size="7.2" font-weight="bold" fill="#2b4658" text-anchor="middle">*</text>
<text x="267.65" y="284.10" font-family='"Liberation Sans", sans-serif' font-size="7.2" font-weight="bold" fill="#9c1640" text-anchor="middle">*</text>
<text x="270.75" y="284.10" font-family='"Liberation Sans", sans-serif' font-size="7.2" font-weight="bold" fill="#9c1640" text-anchor="middle">*</text>
<text x="269.20" y="300.70" font-family='"Liberation Sans", sans-serif' font-size="7.2" font-weight="bold" fill="#9c1640" text-anchor="middle">*</text>
<text x="303.65" y="282.60" font-family='"Liberation Sans", sans-serif' font-size="7.2" font-weight="bold" fill="#2b4658" text-anchor="middle">*</text>
<text x="306.75" y="282.60" font-family='"Liberation Sans", sans-serif' font-size="7.2" font-weight="bold" fill="#2b4658" text-anchor="middle">*</text>
<text x="302.20" y="295.00" font-family='"Liberation Sans", sans-serif' font-size="7.2" font-weight="bold" fill="#9c1640" text-anchor="middle">*</text>
<text x="305.30" y="295.00" font-family='"Liberation Sans", sans-serif' font-size="7.2" font-weight="bold" fill="#9c1640" text-anchor="middle">*</text>
<text x="308.40" y="295.00" font-family='"Liberation Sans", sans-serif' font-size="7.2" font-weight="bold" fill="#9c1640" text-anchor="middle">*</text>
<text x="337.60" y="293.00" font-family='"Liberation Sans", sans-serif' font-size="7.2" font-weight="bold" fill="#2b4658" text-anchor="middle">*</text>
<text x="336.55" y="303.70" font-family='"Liberation Sans", sans-serif' font-size="7.2" font-weight="bold" fill="#9c1640" text-anchor="middle">*</text>
<text x="339.65" y="303.70" font-family='"Liberation Sans", sans-serif' font-size="7.2" font-weight="bold" fill="#9c1640" text-anchor="middle">*</text>
<text x="355.8" y="222.8" font-family='"Liberation Sans", sans-serif' font-weight="bold" font-size="9.5" fill="#000">iii</text>
<path d="M375.1 232.9 L375.1 327.70 M374.40000000000003 327.00 L512.3 327.00" stroke="#111" stroke-width="1.5" fill="none"/>
<path d="M371.90000000000003 327.00 L375.1 327.00" stroke="#111" stroke-width="1.2"/>
<text class="t" x="369.5" y="329.4" font-family='"Liberation Sans", sans-serif' font-size="8.4" fill="#303030" text-anchor="end" >0</text>
<path d="M371.90000000000003 281.55 L375.1 281.55" stroke="#111" stroke-width="1.2"/>
<text class="t" x="369.5" y="283.95" font-family='"Liberation Sans", sans-serif' font-size="8.4" fill="#303030" text-anchor="end" >50</text>
<path d="M371.90000000000003 236.10 L375.1 236.10" stroke="#111" stroke-width="1.2"/>
<text class="t" x="369.5" y="238.5" font-family='"Liberation Sans", sans-serif' font-size="8.4" fill="#303030" text-anchor="end" >100</text>
<path d="M392.4 327.00 L392.4 330.00" stroke="#111" stroke-width="1.2"/>
<text class="t" x="392.4" y="340.7" font-family='"Liberation Sans", sans-serif' font-size="8.4" fill="#303030" text-anchor="middle" >32:1</text>
<path d="M426.7 327.00 L426.7 330.00" stroke="#111" stroke-width="1.2"/>
<text class="t" x="426.7" y="340.7" font-family='"Liberation Sans", sans-serif' font-size="8.4" fill="#303030" text-anchor="middle" >16:1</text>
<path d="M460.7 327.00 L460.7 330.00" stroke="#111" stroke-width="1.2"/>
<text class="t" x="460.7" y="340.7" font-family='"Liberation Sans", sans-serif' font-size="8.4" fill="#303030" text-anchor="middle" >8:1</text>
<path d="M495.0 327.00 L495.0 330.00" stroke="#111" stroke-width="1.2"/>
<text class="t" x="495.0" y="340.7" font-family='"Liberation Sans", sans-serif' font-size="8.4" fill="#303030" text-anchor="middle" >4:1</text>
<path d="M392.4 314.80 L392.4 266.70" stroke="#9c1640" stroke-width="1.1" fill="none"/>
<path d="M392.4 280.80 L392.4 268.00" stroke="#2b4658" stroke-width="1.1" fill="none"/>
<path d="M426.7 320.70 L426.7 274.00" stroke="#9c1640" stroke-width="1.1" fill="none"/>
<path d="M426.7 287.30 L426.7 280.00" stroke="#2b4658" stroke-width="1.1" fill="none"/>
<path d="M460.7 323.80 L460.7 288.50" stroke="#9c1640" stroke-width="1.1" fill="none"/>
<path d="M460.7 301.50 L460.7 293.80" stroke="#2b4658" stroke-width="1.1" fill="none"/>
<path d="M495.0 326.50 L495.0 293.70" stroke="#9c1640" stroke-width="1.1" fill="none"/>
<path d="M390.10 266.70 L394.70 266.70" stroke="#9c1640" stroke-width="1.1" fill="none"/>
<path d="M390.10 268.00 L394.70 268.00" stroke="#2b4658" stroke-width="1.1" fill="none"/>
<path d="M390.10 271.50 L394.70 271.50" stroke="#9c1640" stroke-width="1.1" fill="none"/>
<path d="M390.10 294.10 L394.70 294.10" stroke="#9c1640" stroke-width="1.1" fill="none"/>
<path d="M390.10 314.80 L394.70 314.80" stroke="#9c1640" stroke-width="1.1" fill="none"/>
<path d="M424.40 274.00 L429.00 274.00" stroke="#9c1640" stroke-width="1.1" fill="none"/>
<path d="M424.40 280.00 L429.00 280.00" stroke="#2b4658" stroke-width="1.1" fill="none"/>
<path d="M424.40 320.70 L429.00 320.70" stroke="#9c1640" stroke-width="1.1" fill="none"/>
<path d="M458.40 288.50 L463.00 288.50" stroke="#9c1640" stroke-width="1.1" fill="none"/>
<path d="M458.40 293.80 L463.00 293.80" stroke="#2b4658" stroke-width="1.1" fill="none"/>
<path d="M458.40 323.80 L463.00 323.80" stroke="#9c1640" stroke-width="1.1" fill="none"/>
<path d="M492.70 293.70 L497.30 293.70" stroke="#9c1640" stroke-width="1.1" fill="none"/>
<polyline points="392.40,327.00 426.70,327.00 460.70,327.00 495.00,327.00" stroke="#9c1640" stroke-width="1.35" fill="none" stroke-dasharray="3.0,1.9"/>
<circle cx="392.40" cy="327.00" r="1.98" fill="#9c1640"/>
<circle cx="426.70" cy="327.00" r="1.98" fill="#9c1640"/>
<circle cx="460.70" cy="327.00" r="1.98" fill="#9c1640"/>
<circle cx="495.00" cy="327.00" r="1.98" fill="#9c1640"/>
<polyline points="392.40,290.40 426.70,301.00 460.70,309.40 495.00,316.30" stroke="#9c1640" stroke-width="1.3" fill="none" stroke-dasharray="3.0,1.9"/>
<path d="M392.40 292.78 L394.78 288.61 L390.02 288.61 Z" fill="#9c1640"/>
<path d="M426.70 303.38 L429.08 299.21 L424.32 299.21 Z" fill="#9c1640"/>
<path d="M460.70 311.78 L463.08 307.61 L458.32 307.61 Z" fill="#9c1640"/>
<path d="M495.00 318.68 L497.38 314.51 L492.62 314.51 Z" fill="#9c1640"/>
<polyline points="392.40,280.80 426.70,287.30 460.70,301.50 495.00,311.00" stroke="#2b4658" stroke-width="1.2" fill="none"/>
<rect x="390.30" y="278.70" width="4.20" height="4.20" fill="#2d4a72"/>
<rect x="424.60" y="285.20" width="4.20" height="4.20" fill="#2d4a72"/>
<rect x="458.60" y="299.40" width="4.20" height="4.20" fill="#2d4a72"/>
<rect x="492.90" y="308.90" width="4.20" height="4.20" fill="#2d4a72"/>
<polyline points="392.40,282.20 426.70,291.40 460.70,298.10 495.00,305.20" stroke="#9c1640" stroke-width="1.4" fill="none"/>
<path d="M392.40 279.26 L395.34 284.40 L389.46 284.40 Z" fill="#9c1640"/>
<path d="M426.70 288.46 L429.64 293.60 L423.76 293.60 Z" fill="#9c1640"/>
<path d="M460.70 295.16 L463.64 300.31 L457.76 300.31 Z" fill="#9c1640"/>
<path d="M495.00 302.26 L497.94 307.40 L492.06 307.40 Z" fill="#9c1640"/>
<text x="397.20" y="283.10" font-family='"Liberation Sans", sans-serif' font-size="7.2" font-weight="bold" fill="#2b4658" text-anchor="middle">*</text>
<text x="397.20" y="291.30" font-family='"Liberation Sans", sans-serif' font-size="7.2" font-weight="bold" fill="#9c1640" text-anchor="middle">*</text>
<text x="431.90" y="289.90" font-family='"Liberation Sans", sans-serif' font-size="7.2" font-weight="bold" fill="#2b4658" text-anchor="middle">*</text>
<text x="431.90" y="299.60" font-family='"Liberation Sans", sans-serif' font-size="7.2" font-weight="bold" fill="#9c1640" text-anchor="middle">*</text>
<text x="466.30" y="299.90" font-family='"Liberation Sans", sans-serif' font-size="7.2" font-weight="bold" fill="#9c1640" text-anchor="middle">*</text>
<text x="466.30" y="309.90" font-family='"Liberation Sans", sans-serif' font-size="7.2" font-weight="bold" fill="#2b4658" text-anchor="middle">*</text>
<text x="500.60" y="318.40" font-family='"Liberation Sans", sans-serif' font-size="7.2" font-weight="bold" fill="#555" text-anchor="middle">*</text>
<path d="M460 236.60 L462.8 236.60 M467.2 236.60 L470 236.60" stroke="#9c1640" stroke-width="1.4"/>
<circle cx="465.00" cy="236.60" r="1.98" fill="#9c1640"/>
<text class="t" x="472.9" y="239.54999999999998" font-family='"Liberation Sans", sans-serif' font-size="8.0" fill="#303030" text-anchor="start" >PBMC NT</text>
<path d="M460 248.30 L470 248.30" stroke="#2b4658" stroke-width="1.4"/>
<rect x="463.11" y="246.41" width="3.78" height="3.78" fill="#2b4658"/>
<text class="t" x="472.9" y="251.24999999999997" font-family='"Liberation Sans", sans-serif' font-size="8.0" fill="#303030" text-anchor="start" >ACAR-H</text>
<path d="M460 260.00 L470 260.00" stroke="#9c1640" stroke-width="1.4"/>
<path d="M465.00 257.48 L467.52 261.89 L462.48 261.89 Z" fill="#9c1640"/>
<text class="t" x="472.9" y="262.95" font-family='"Liberation Sans", sans-serif' font-size="8.0" fill="#303030" text-anchor="start" >ACAR-CD8</text>
<path d="M460 271.70 L462.8 271.70 M467.2 271.70 L470 271.70" stroke="#9c1640" stroke-width="1.4"/>
<path d="M465.00 274.22 L467.52 269.81 L462.48 269.81 Z" fill="#9c1640"/>
<text class="t" x="472.9" y="274.65" font-family='"Liberation Sans", sans-serif' font-size="8.0" fill="#303030" text-anchor="start" >ACAR-Fc</text>
<path d="M48.9 384.2 L48.9 421.3 M48.9 428.7 L48.9 497.7 M48.199999999999996 497 L215.2 497" stroke="#111" stroke-width="1.5" fill="none"/>
<path d="M45.4 420.8 L51.9 420.8 M45.699999999999996 428.9 L51.9 428.9" stroke="#111" stroke-width="1.3" fill="none"/>
<path d="M45.699999999999996 387 L48.9 387 M45.699999999999996 463.00 L48.9 463.00 M45.699999999999996 497 L48.9 497" stroke="#111" stroke-width="1.2" fill="none"/>
<text class="t" x="42.3" y="389.9" font-family='"Liberation Sans", sans-serif' font-size="8.2" fill="#303030" text-anchor="end" >40</text>
<text class="t" x="42.3" y="421.7" font-family='"Liberation Sans", sans-serif' font-size="8.2" fill="#303030" text-anchor="end" >20</text>
<text class="t" x="42.3" y="431.3" font-family='"Liberation Sans", sans-serif' font-size="8.2" fill="#303030" text-anchor="end" >10</text>
<text class="t" x="42.3" y="465.9" font-family='"Liberation Sans", sans-serif' font-size="8.2" fill="#303030" text-anchor="end" >5</text>
<text class="t" x="42.3" y="499.9" font-family='"Liberation Sans", sans-serif' font-size="8.2" fill="#303030" text-anchor="end" >0</text>
<text class="t" x="27.5" y="440.8" font-family='"Liberation Sans", sans-serif' font-size="8.2" fill="#303030" text-anchor="middle" transform="rotate(-90 27.5 440.8)">IFNG ng/ml</text>
<rect x="96.40" y="491.90" width="7.20" height="4.40" fill="#c40c38" stroke="#9c0a2d" stroke-width="0.6"/>
<path d="M100.00 491.60 L100.00 488.60 M98.10 488.60 L101.90 488.60" stroke="#222" stroke-width="1.1" fill="none"/>
<rect x="107.50" y="429.30" width="7.00" height="67.00" fill="#2d4a88" stroke="#263e70" stroke-width="0.6"/>
<rect x="107.50" y="418.30" width="7.00" height="2.80" fill="#2d4a88" stroke="#263e70" stroke-width="0.6"/>
<path d="M111.00 418.00 L111.00 403.60 M109.10 403.60 L112.90 403.60" stroke="#222" stroke-width="1.1" fill="none"/>
<rect x="118.80" y="476.60" width="6.80" height="19.70" fill="#62ac43" stroke="#4f9134" stroke-width="0.6"/>
<path d="M122.20 476.30 L122.20 469.00 M120.30 469.00 L124.10 469.00" stroke="#222" stroke-width="1.1" fill="none"/>
<rect x="137.90" y="492.20" width="6.90" height="4.10" fill="#c40c38" stroke="#9c0a2d" stroke-width="0.6"/>
<path d="M141.40 491.90 L141.40 490.30 M139.50 490.30 L143.30 490.30" stroke="#222" stroke-width="1.1" fill="none"/>
<rect x="149.10" y="429.30" width="6.80" height="67.00" fill="#2d4a88" stroke="#263e70" stroke-width="0.6"/>
<rect x="149.10" y="418.90" width="6.80" height="2.20" fill="#2d4a88" stroke="#263e70" stroke-width="0.6"/>
<path d="M152.50 418.60 L152.50 408.20 M150.60 408.20 L154.40 408.20" stroke="#222" stroke-width="1.1" fill="none"/>
<rect x="160.30" y="479.30" width="7.20" height="17.00" fill="#62ac43" stroke="#4f9134" stroke-width="0.6"/>
<path d="M163.90 479.00 L163.90 473.70 M162.00 473.70 L165.80 473.70" stroke="#222" stroke-width="1.1" fill="none"/>
<rect x="179.50" y="495.30" width="7.10" height="1.00" fill="#c40c38" stroke="#9c0a2d" stroke-width="0.6"/>
<path d="M183.00 495.00 L183.00 492.90 M181.10 492.90 L184.90 492.90" stroke="#222" stroke-width="1.1" fill="none"/>
<rect x="190.90" y="458.00" width="6.70" height="38.30" fill="#2d4a88" stroke="#263e70" stroke-width="0.6"/>
<path d="M194.20 457.70 L194.20 433.70 M192.30 433.70 L196.10 433.70" stroke="#222" stroke-width="1.1" fill="none"/>
<rect x="202.00" y="494.10" width="6.70" height="2.20" fill="#62ac43" stroke="#4f9134" stroke-width="0.6"/>
<path d="M205.30 493.80 L205.30 491.70 M203.40 491.70 L207.20 491.70" stroke="#222" stroke-width="1.1" fill="none"/>
<path d="M69.6 497 L69.6 500.3" stroke="#111" stroke-width="1.2"/>
<path d="M111.1 497 L111.1 500.3" stroke="#111" stroke-width="1.2"/>
<path d="M152.6 497 L152.6 500.3" stroke="#111" stroke-width="1.2"/>
<path d="M194.1 497 L194.1 500.3" stroke="#111" stroke-width="1.2"/>
<path d="M96.5 386.5 L96.5 381.7 L120.2 381.7 L120.2 386.5" stroke="#222" stroke-width="1.3" fill="none"/>
<text x="108.20" y="381.40" font-family='"Liberation Sans", sans-serif' font-size="7.5" font-weight="bold" fill="#222" text-anchor="middle">*</text>
<path d="M97.0 400.8 L97.0 396.2 L111.2 396.2 L111.2 400.8" stroke="#222" stroke-width="1.3" fill="none"/>
<text x="102.50" y="395.50" font-family='"Liberation Sans", sans-serif' font-size="7.5" font-weight="bold" fill="#222" text-anchor="middle">*</text>
<text x="106.10" y="395.50" font-family='"Liberation Sans", sans-serif' font-size="7.5" font-weight="bold" fill="#222" text-anchor="middle">*</text>
<path d="M137.4 386.5 L137.4 381.7 L161.3 381.7 L161.3 386.5" stroke="#222" stroke-width="1.3" fill="none"/>
<text x="149.40" y="381.40" font-family='"Liberation Sans", sans-serif' font-size="7.5" font-weight="bold" fill="#222" text-anchor="middle">*</text>
<path d="M137.9 400.8 L137.9 396.2 L152.5 396.2 L152.5 400.8" stroke="#222" stroke-width="1.3" fill="none"/>
<text x="143.40" y="395.50" font-family='"Liberation Sans", sans-serif' font-size="7.5" font-weight="bold" fill="#222" text-anchor="middle">*</text>
<text x="147.00" y="395.50" font-family='"Liberation Sans", sans-serif' font-size="7.5" font-weight="bold" fill="#222" text-anchor="middle">*</text>
<text class="t" x="75.00" y="509.00" font-family='"Liberation Sans", sans-serif' font-size="8.8" fill="#303030" text-anchor="end" textLength="39.8" lengthAdjust="spacingAndGlyphs" transform="rotate(-45 75.00 509.00)">PBMC NT</text>
<text class="t" x="116.60" y="508.40" font-family='"Liberation Sans", sans-serif' font-size="8.8" fill="#303030" text-anchor="end" textLength="32.6" lengthAdjust="spacingAndGlyphs" transform="rotate(-45 116.60 508.40)">ACAR-H</text>
<text class="t" x="158.80" y="508.10" font-family='"Liberation Sans", sans-serif' font-size="8.8" fill="#303030" text-anchor="end" textLength="44.4" lengthAdjust="spacingAndGlyphs" transform="rotate(-45 158.80 508.10)">ACAR-CD8</text>
<text class="t" x="197.60" y="507.10" font-family='"Liberation Sans", sans-serif' font-size="8.8" fill="#303030" text-anchor="end" textLength="35.8" lengthAdjust="spacingAndGlyphs" transform="rotate(-45 197.60 507.10)">ACAR-Fc</text>
<path d="M274.0 382.9 L274.0 497.7 M273.3 497 L441.7 497" stroke="#111" stroke-width="1.5" fill="none"/>
<path d="M270.8 497.00 L274.0 497.00" stroke="#111" stroke-width="1.2"/>
<text class="t" x="268.5" y="499.5" font-family='"Liberation Sans", sans-serif' font-size="8.2" fill="#303030" text-anchor="end" >0</text>
<path d="M270.8 474.80 L274.0 474.80" stroke="#111" stroke-width="1.2"/>
<text class="t" x="268.5" y="477.3" font-family='"Liberation Sans", sans-serif' font-size="8.2" fill="#303030" text-anchor="end" >20</text>
<path d="M270.8 452.60 L274.0 452.60" stroke="#111" stroke-width="1.2"/>
<text class="t" x="268.5" y="455.1" font-family='"Liberation Sans", sans-serif' font-size="8.2" fill="#303030" text-anchor="end" >40</text>
<path d="M270.8 430.40 L274.0 430.40" stroke="#111" stroke-width="1.2"/>
<text class="t" x="268.5" y="432.9" font-family='"Liberation Sans", sans-serif' font-size="8.2" fill="#303030" text-anchor="end" >60</text>
<path d="M270.8 408.20 L274.0 408.20" stroke="#111" stroke-width="1.2"/>
<text class="t" x="268.5" y="410.7" font-family='"Liberation Sans", sans-serif' font-size="8.2" fill="#303030" text-anchor="end" >80</text>
<path d="M270.8 386.00 L274.0 386.00" stroke="#111" stroke-width="1.2"/>
<text class="t" x="268.5" y="388.5" font-family='"Liberation Sans", sans-serif' font-size="8.2" fill="#303030" text-anchor="end" >100</text>
<text class="t" x="246.5" y="441" font-family='"Liberation Sans", sans-serif' font-size="8.2" fill="#303030" text-anchor="middle" transform="rotate(-90 246.5 441)">% proliferated at D+4</text>
<rect x="280.20" y="481.50" width="7.00" height="14.80" fill="#c40c38" stroke="#9c0a2d" stroke-width="0.6"/>
<path d="M283.70 481.20 L283.70 478.40 M281.80 478.40 L285.60 478.40" stroke="#222" stroke-width="1.1" fill="none"/>
<rect x="291.80" y="482.70" width="7.00" height="13.60" fill="#2d4a88" stroke="#263e70" stroke-width="0.6"/>
<path d="M295.30 482.40 L295.30 479.80 M293.40 479.80 L297.20 479.80" stroke="#222" stroke-width="1.1" fill="none"/>
<rect x="303.40" y="473.50" width="7.00" height="22.80" fill="#62ac43" stroke="#4f9134" stroke-width="0.6"/>
<path d="M306.90 473.20 L306.90 468.00 M305.00 468.00 L308.80 468.00" stroke="#222" stroke-width="1.1" fill="none"/>
<path d="M295.3 497 L295.3 500.3" stroke="#111" stroke-width="1.2"/>
<text class="t" x="300.70" y="509.00" font-family='"Liberation Sans", sans-serif' font-size="8.8" fill="#303030" text-anchor="end" textLength="39.8" lengthAdjust="spacingAndGlyphs" transform="rotate(-45 300.70 509.00)">PBMC NT</text>
<rect x="321.50" y="484.90" width="7.00" height="11.40" fill="#c40c38" stroke="#9c0a2d" stroke-width="0.6"/>
<path d="M325.00 484.60 L325.00 480.70 M323.10 480.70 L326.90 480.70" stroke="#222" stroke-width="1.1" fill="none"/>
<rect x="333.10" y="423.00" width="7.00" height="73.30" fill="#2d4a88" stroke="#263e70" stroke-width="0.6"/>
<path d="M336.60 422.70 L336.60 412.40 M334.70 412.40 L338.50 412.40" stroke="#222" stroke-width="1.1" fill="none"/>
<rect x="344.70" y="429.10" width="7.00" height="67.20" fill="#62ac43" stroke="#4f9134" stroke-width="0.6"/>
<path d="M348.20 428.80 L348.20 420.50 M346.30 420.50 L350.10 420.50" stroke="#222" stroke-width="1.1" fill="none"/>
<path d="M336.6 497 L336.6 500.3" stroke="#111" stroke-width="1.2"/>
<text class="t" x="342.10" y="508.40" font-family='"Liberation Sans", sans-serif' font-size="8.8" fill="#303030" text-anchor="end" textLength="32.6" lengthAdjust="spacingAndGlyphs" transform="rotate(-45 342.10 508.40)">ACAR-H</text>
<rect x="362.90" y="487.30" width="7.00" height="9.00" fill="#c40c38" stroke="#9c0a2d" stroke-width="0.6"/>
<path d="M366.40 487.00 L366.40 485.80 M364.50 485.80 L368.30 485.80" stroke="#222" stroke-width="1.1" fill="none"/>
<rect x="374.50" y="416.70" width="7.00" height="79.60" fill="#2d4a88" stroke="#263e70" stroke-width="0.6"/>
<path d="M378.00 416.40 L378.00 410.30 M376.10 410.30 L379.90 410.30" stroke="#222" stroke-width="1.1" fill="none"/>
<rect x="386.10" y="427.30" width="7.00" height="69.00" fill="#62ac43" stroke="#4f9134" stroke-width="0.6"/>
<path d="M389.60 427.00 L389.60 419.70 M387.70 419.70 L391.50 419.70" stroke="#222" stroke-width="1.1" fill="none"/>
<path d="M378.0 497 L378.0 500.3" stroke="#111" stroke-width="1.2"/>
<text class="t" x="384.20" y="508.10" font-family='"Liberation Sans", sans-serif' font-size="8.8" fill="#303030" text-anchor="end" textLength="44.4" lengthAdjust="spacingAndGlyphs" transform="rotate(-45 384.20 508.10)">ACAR-CD8</text>
<rect x="405.10" y="486.20" width="7.00" height="10.10" fill="#c40c38" stroke="#9c0a2d" stroke-width="0.6"/>
<path d="M408.60 485.90 L408.60 480.10 M406.70 480.10 L410.50 480.10" stroke="#222" stroke-width="1.1" fill="none"/>
<rect x="416.70" y="463.30" width="7.00" height="33.00" fill="#2d4a88" stroke="#263e70" stroke-width="0.6"/>
<path d="M420.20 463.00 L420.20 444.60 M418.30 444.60 L422.10 444.60" stroke="#222" stroke-width="1.1" fill="none"/>
<rect x="428.30" y="469.10" width="7.00" height="27.20" fill="#62ac43" stroke="#4f9134" stroke-width="0.6"/>
<path d="M431.80 468.80 L431.80 456.40 M429.90 456.40 L433.70 456.40" stroke="#222" stroke-width="1.1" fill="none"/>
<path d="M420.2 497 L420.2 500.3" stroke="#111" stroke-width="1.2"/>
<text class="t" x="423.70" y="507.10" font-family='"Liberation Sans", sans-serif' font-size="8.8" fill="#303030" text-anchor="end" textLength="35.8" lengthAdjust="spacingAndGlyphs" transform="rotate(-45 423.70 507.10)">ACAR-Fc</text>
<path d="M322.6 392.8 L322.6 387.8 L346.5 387.8 L346.5 392.8" stroke="#222" stroke-width="1.3" fill="none"/>
<text x="330.50" y="387.40" font-family='"Liberation Sans", sans-serif' font-size="7.5" font-weight="bold" fill="#222" text-anchor="middle">*</text>
<text x="334.60" y="387.40" font-family='"Liberation Sans", sans-serif' font-size="7.5" font-weight="bold" fill="#222" text-anchor="middle">*</text>
<text x="338.70" y="387.40" font-family='"Liberation Sans", sans-serif' font-size="7.5" font-weight="bold" fill="#222" text-anchor="middle">*</text>
<path d="M323.7 407.0 L323.7 402.4 L337.4 402.4 L337.4 407.0" stroke="#222" stroke-width="1.3" fill="none"/>
<text x="326.70" y="401.80" font-family='"Liberation Sans", sans-serif' font-size="7.5" font-weight="bold" fill="#222" text-anchor="middle">*</text>
<text x="330.80" y="401.80" font-family='"Liberation Sans", sans-serif' font-size="7.5" font-weight="bold" fill="#222" text-anchor="middle">*</text>
<text x="334.90" y="401.80" font-family='"Liberation Sans", sans-serif' font-size="7.5" font-weight="bold" fill="#222" text-anchor="middle">*</text>
<path d="M364.6 392.8 L364.6 387.8 L388.6 387.8 L388.6 392.8" stroke="#222" stroke-width="1.3" fill="none"/>
<text x="372.50" y="387.40" font-family='"Liberation Sans", sans-serif' font-size="7.5" font-weight="bold" fill="#222" text-anchor="middle">*</text>
<text x="376.60" y="387.40" font-family='"Liberation Sans", sans-serif' font-size="7.5" font-weight="bold" fill="#222" text-anchor="middle">*</text>
<text x="380.70" y="387.40" font-family='"Liberation Sans", sans-serif' font-size="7.5" font-weight="bold" fill="#222" text-anchor="middle">*</text>
<path d="M365.5 406.8 L365.5 402.2 L379.6 402.2 L379.6 406.8" stroke="#222" stroke-width="1.3" fill="none"/>
<text x="368.50" y="401.60" font-family='"Liberation Sans", sans-serif' font-size="7.5" font-weight="bold" fill="#222" text-anchor="middle">*</text>
<text x="372.60" y="401.60" font-family='"Liberation Sans", sans-serif' font-size="7.5" font-weight="bold" fill="#222" text-anchor="middle">*</text>
<text x="376.70" y="401.60" font-family='"Liberation Sans", sans-serif' font-size="7.5" font-weight="bold" fill="#222" text-anchor="middle">*</text>
<rect x="444.6" y="384.30" width="12" height="5.8" fill="#c40c38"/>
<text class="t" x="459.6" y="390.2" font-family='"Liberation Sans", sans-serif' font-size="7.9" fill="#303030" text-anchor="start" >SUPT1 NT</text>
<rect x="444.6" y="395.95" width="12" height="5.8" fill="#2d4a88"/>
<text class="t" x="459.6" y="401.84999999999997" font-family='"Liberation Sans", sans-serif' font-size="7.9" fill="#303030" text-anchor="start" >SUPT1 BCMA</text>
<rect x="444.6" y="407.60" width="12" height="5.8" fill="#62ac43"/>
<text class="t" x="459.6" y="413.5" font-family='"Liberation Sans", sans-serif' font-size="7.9" fill="#303030" text-anchor="start" >SUPT1 TACI</text>
</svg>
</body></html>
